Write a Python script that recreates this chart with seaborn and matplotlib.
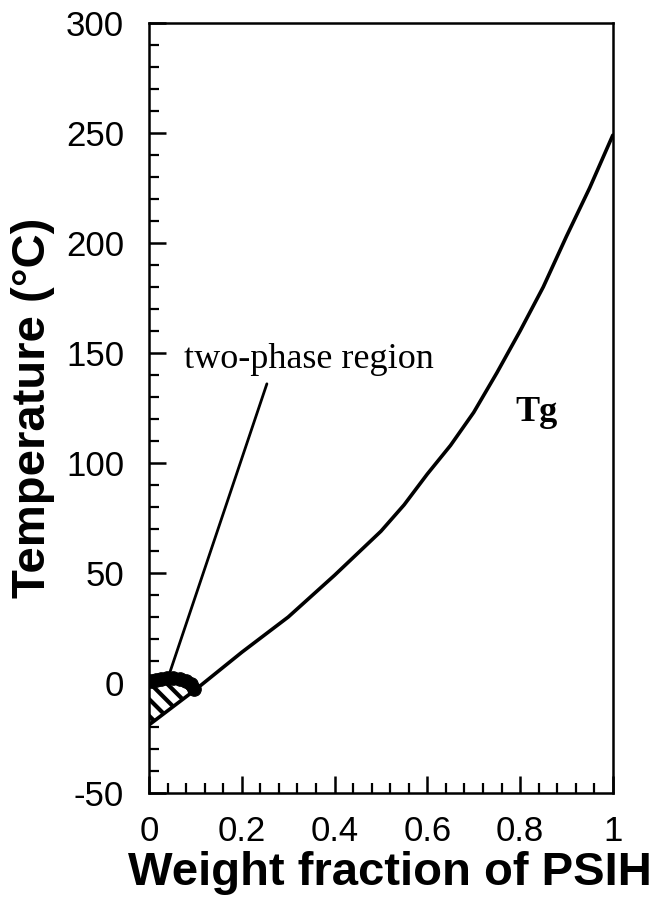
import matplotlib
matplotlib.use("Agg")
import matplotlib.pyplot as plt
import matplotlib.ticker as mticker
import numpy as np
import pandas as pd
import seaborn as sns

# Glass transition temperature vs. PSIH weight fraction
w_psih = [0.0, 0.1, 0.2, 0.3, 0.4, 0.45, 0.5, 0.55, 0.6, 0.65, 0.7, 0.75,
          0.8, 0.85, 0.9, 0.95, 1.0]
tg = [-19, -3, 14, 30, 49, 59, 69, 81, 95, 108, 123, 141,
      160, 180, 203, 225, 249]

# Cloud points bounding the two-phase region
cloud_w = [0.004, 0.014, 0.025, 0.038, 0.052, 0.066, 0.079, 0.09, 0.097]
cloud_t = [1.0, 1.5, 2.0, 2.5, 2.5, 2.0, 1.0, -0.5, -2.5]

x_ticks = [0, 0.2, 0.4, 0.6, 0.8, 1]
x_tick_labels = ["0", "0.2", "0.4", "0.6", "0.8", "1"]
y_ticks = [-50, 0, 50, 100, 150, 200, 250, 300]

sns.set_theme(style="ticks")
plt.rcParams["font.family"] = ["Liberation Sans", "DejaVu Sans"]
plt.rcParams["axes.unicode_minus"] = False
plt.rcParams["hatch.linewidth"] = 3.0
plt.rcParams["hatch.color"] = "black"
plt.rcParams["text.color"] = "black"
plt.rcParams["axes.labelcolor"] = "black"
plt.rcParams["xtick.color"] = "black"
plt.rcParams["ytick.color"] = "black"

fig = plt.figure(figsize=(6.54, 9.02), dpi=100)
ax = fig.add_axes([0.228, 0.1208, 0.709, 0.8537])

df = pd.DataFrame({"w": w_psih, "tg": tg})
sns.lineplot(data=df, x="w", y="tg", ax=ax, color="black", linewidth=2.6)

# Hatched two-phase area between the axis, the cloud-point arc and Tg line
poly_x = [0.0] + cloud_w + [0.0]
poly_y = [cloud_t[0]] + cloud_t + [tg[0]]
ax.fill(poly_x, poly_y, facecolor="white", edgecolor="black",
        hatch="\\\\", linewidth=0, zorder=1)

cdf = pd.DataFrame({"w": cloud_w, "t": cloud_t})
sns.scatterplot(data=cdf, x="w", y="t", ax=ax, color="black",
                edgecolor="black", s=95, zorder=3, legend=False)

# Leader line and labels
ax.plot([0.045, 0.254], [5, 136], color="black", linewidth=2.0)
ax.text(0.344, 147, "two-phase region", fontsize=26, color="black",
        family=["Liberation Serif", "DejaVu Serif"], ha="center", va="center")
ax.text(0.835, 123, "Tg", fontsize=26, fontweight="bold", color="black",
        family=["Liberation Serif", "DejaVu Serif"], ha="center", va="center")

ax.set_xlim(0, 1)
ax.set_ylim(-50, 300)
ax.set_xticks(x_ticks)
ax.set_xticklabels(x_tick_labels)
ax.set_yticks(y_ticks)
ax.xaxis.set_minor_locator(mticker.MultipleLocator(0.04))
ax.yaxis.set_minor_locator(mticker.MultipleLocator(10))

ax.tick_params(axis="both", which="both", direction="in", colors="black",
               top=False, right=False)
ax.tick_params(axis="both", which="major", length=12, width=1.8,
               labelsize=25)
ax.tick_params(axis="both", which="minor", length=7, width=1.6)
ax.tick_params(axis="y", which="major", pad=18)
ax.tick_params(axis="x", which="major", pad=16)

for side in ["left", "right", "top", "bottom"]:
    ax.spines[side].set_visible(True)
    ax.spines[side].set_color("black")
    ax.spines[side].set_linewidth(1.8)

ax.set_xlabel("Weight fraction of PSIH", fontsize=34, fontweight="bold",
              labelpad=0)
ax.xaxis.set_label_coords(0.52, -0.075)
ax.set_ylabel("Temperature (°C)", fontsize=34, fontweight="bold",
              labelpad=8)
ax.grid(False)
ax.set_facecolor("white")
fig.patch.set_facecolor("white")

fig.savefig("out.png", dpi=100, facecolor="white")
